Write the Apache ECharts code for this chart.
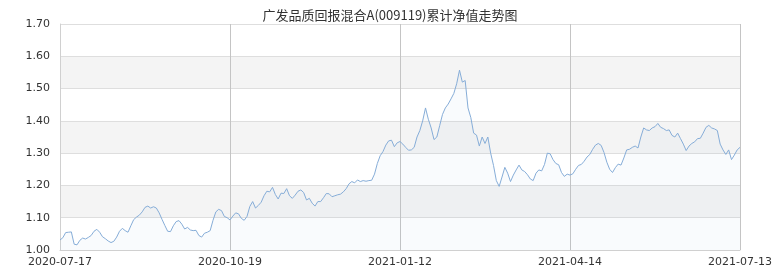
<!DOCTYPE html>
<html>
<head>
<meta charset="utf-8">
<script src="https://cdn.jsdelivr.net/npm/echarts@6/dist/echarts.min.js"></script>
<style>
html,body{margin:0;padding:0;background:#fff;}
#chart{width:780px;height:270px;}
</style>
</head>
<body>
<div id="chart"></div>
<script>
var titleText = '广发品质回报混合A(009119)累计净值走势图';
var startDate = '2020-07-17';
var endDate = '2021-07-13';
var holidays = ['2020-10-01','2020-10-02','2020-10-05','2020-10-06','2020-10-07','2020-10-08',
  '2021-01-01','2021-02-11','2021-02-12','2021-02-15','2021-02-16','2021-02-17',
  '2021-04-05','2021-05-03','2021-05-04','2021-05-05','2021-06-14'];
var yTicks = [1.00, 1.10, 1.20, 1.30, 1.40, 1.50, 1.60, 1.70];

var nav1 = [1.031,1.038,1.054,1.055,1.056,1.018,1.016,1.030,1.037,1.034,
  1.039,1.045,1.058,1.064,1.055,1.041,1.035,1.028,1.023,1.027,
  1.040,1.058,1.067,1.060,1.055,1.075,1.094,1.102,1.108,1.118,
  1.132,1.136,1.130,1.134,1.130,1.115,1.095,1.076,1.058,1.057,
  1.075,1.088,1.091,1.080,1.065,1.070,1.062,1.060,1.061,1.045,
  1.040,1.052,1.055,1.060,1.092,1.118,1.126,1.122,1.104,1.100];
var nav2 = [1.093,1.105,1.115,1.112,1.098,1.092,1.104,1.135,1.150,1.130,
  1.138,1.148,1.168,1.182,1.180,1.194,1.172,1.158,1.176,1.175,
  1.190,1.168,1.160,1.170,1.182,1.186,1.178,1.155,1.160,1.145,
  1.136,1.150,1.150,1.162,1.175,1.174,1.165,1.168,1.171,1.173,
  1.180,1.190,1.205,1.212,1.208,1.217,1.212,1.215,1.213,1.215,
  1.216,1.235,1.268,1.292,1.305,1.325,1.338,1.340,1.320,1.332];
var nav3 = [1.336,1.328,1.318,1.309,1.310,1.318,1.350,1.370,1.400,1.440,
  1.405,1.378,1.342,1.350,1.385,1.420,1.440,1.452,1.468,1.485,
  1.515,1.557,1.520,1.525,1.440,1.410,1.362,1.356,1.322,1.350,
  1.330,1.350,1.300,1.262,1.215,1.197,1.226,1.256,1.238,1.212,
  1.232,1.248,1.263,1.248,1.243,1.233,1.220,1.215,1.238,1.248,
  1.245,1.265,1.300,1.298,1.280,1.268,1.264,1.240,1.228,1.235];
var nav4 = [1.232,1.236,1.250,1.262,1.265,1.275,1.288,1.296,1.312,1.325,
  1.330,1.324,1.302,1.272,1.250,1.240,1.255,1.266,1.263,1.285,
  1.310,1.312,1.318,1.322,1.316,1.350,1.378,1.372,1.370,1.378,
  1.382,1.392,1.380,1.376,1.370,1.372,1.355,1.350,1.362,1.345,
  1.328,1.308,1.322,1.330,1.335,1.345,1.346,1.362,1.380,1.386,
  1.378,1.375,1.370,1.328,1.310,1.296,1.310,1.280,1.294,1.310,
  1.318];

var values = nav1.concat(nav2, nav3, nav4);

function pad(n){ return n < 10 ? '0' + n : '' + n; }
function fmt(d){ return d.getUTCFullYear() + '-' + pad(d.getUTCMonth() + 1) + '-' + pad(d.getUTCDate()); }
var dates = [];
(function(){
  var d = new Date(startDate + 'T00:00:00Z');
  var end = new Date(endDate + 'T00:00:00Z');
  while (d <= end) {
    var wd = d.getUTCDay();
    var s = fmt(d);
    if (wd !== 0 && wd !== 6 && holidays.indexOf(s) < 0) dates.push(s);
    d = new Date(d.getTime() + 86400000);
  }
})();

var chart = echarts.init(document.getElementById('chart'), null, {renderer: 'canvas'});
var labelFont = {fontFamily: 'DejaVu Sans', fontSize: 11, color: '#333'};
chart.setOption({
  animation: false,
  backgroundColor: '#fff',
  title: {
    text: titleText,
    left: 'center',
    top: 4,
    textStyle: {fontFamily: 'Noto Sans CJK SC', fontSize: 13, fontWeight: 'normal', color: '#333'}
  },
  grid: {left: 60, right: 40, top: 24, bottom: 20, show: false},
  xAxis: {
    type: 'category',
    data: dates,
    boundaryGap: false,
    axisLine: {show: true, lineStyle: {color: '#d0d0d0'}},
    axisTick: {show: false},
    axisLabel: Object.assign({interval: 59, margin: 7, showMaxLabel: true}, labelFont),
    splitLine: {show: true, interval: 59, lineStyle: {color: '#c4c4c4', width: 1}}
  },
  yAxis: {
    type: 'value',
    min: yTicks[0],
    max: yTicks[yTicks.length - 1],
    interval: 0.1,
    axisLine: {show: true, lineStyle: {color: '#d0d0d0'}},
    axisTick: {show: false},
    axisLabel: Object.assign({margin: 10, formatter: function(v){ return v.toFixed(2); }}, labelFont),
    splitLine: {show: true, lineStyle: {color: '#dedede', width: 1}},
    splitArea: {show: true, areaStyle: {color: ['#ffffff', '#f4f4f4']}}
  },
  series: [{
    type: 'line',
    data: values,
    symbol: 'none',
    lineStyle: {color: '#86add8', width: 1},
    areaStyle: {color: 'rgba(140,180,225,0.08)'}
  }]
});
</script>
</body>
</html>
